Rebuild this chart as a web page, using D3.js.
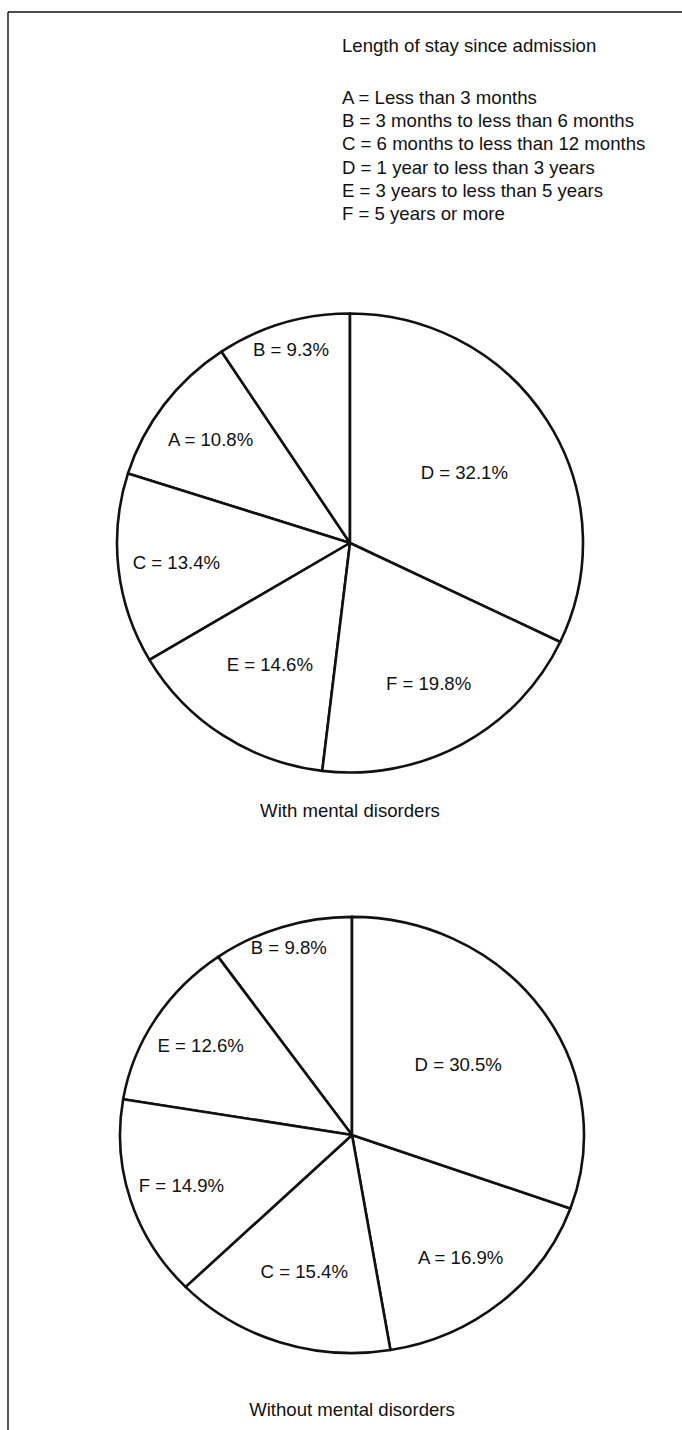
<!DOCTYPE html>
<html>
<head>
<meta charset="utf-8">
<script src="https://cdn.jsdelivr.net/npm/d3@7/dist/d3.min.js"></script>
<style>
  html, body { margin: 0; padding: 0; background: #fff; }
  svg { display: block; }
  text { font-family: "Liberation Sans", Arial, Helvetica, sans-serif; fill: #111; }
</style>
</head>
<body>
<svg id="chart" width="682" height="1430"></svg>
<script>
// ---- data ----
const categories = ["A", "B", "C", "D", "E", "F"];
const categoryLabels = [
  "Less than 3 months",
  "3 months to less than 6 months",
  "6 months to less than 12 months",
  "1 year to less than 3 years",
  "3 years to less than 5 years",
  "5 years or more"
];
const withDisorders = [10.8, 9.3, 13.4, 32.1, 14.6, 19.8];
const withoutDisorders = [16.9, 9.8, 15.4, 30.5, 12.6, 14.9];
const pieTitles = ["With mental disorders", "Without mental disorders"];
const legendTitle = "Length of stay since admission";

// ---- layout ----
const svg = d3.select("#chart");
const W = 682, H = 1430;
const FS = 18.6;

// frame (top and left rules)
svg.append("line").attr("x1", 8).attr("y1", 12).attr("x2", W).attr("y2", 12)
  .attr("stroke", "#111").attr("stroke-width", 1.6);
svg.append("line").attr("x1", 8).attr("y1", 12).attr("x2", 8).attr("y2", H)
  .attr("stroke", "#111").attr("stroke-width", 1.4);

// legend
const legend = svg.append("g");
legend.append("text").attr("x", 342).attr("y", 52).attr("font-size", FS).text(legendTitle);
legend.selectAll("text.item").data(categories).join("text")
  .attr("class", "item")
  .attr("x", 342)
  .attr("y", (d, i) => 104 + i * 23.2)
  .attr("font-size", FS)
  .text((d, i) => `${d} = ${categoryLabels[i]}`);

// label radius fractions per pie (layout only)
const labelPos = [
  { A: 0.75, B: 0.88, C: 0.75, D: 0.58, E: 0.63, F: 0.70 },
  { A: 0.73, B: 0.90, C: 0.66, D: 0.56, E: 0.77, F: 0.77 }
];

const pies = [
  { values: withDisorders, cx: 350, cy: 543, r: 233, sy: 0.985, titleY: 817 },
  { values: withoutDisorders, cx: 352, cy: 1135, r: 232, sy: 0.94, titleY: 1416 }
];

const pieGen = d3.pie().value(d => d.v).sort((a, b) => b.v - a.v);

pies.forEach((p, pi) => {
  const rows = categories.map((c, i) => ({ c, v: p.values[i] }));
  const arcs = pieGen(rows);
  const arc = d3.arc().innerRadius(0).outerRadius(p.r);
  const g = svg.append("g").attr("transform", `translate(${p.cx},${p.cy})`);
  g.append("g").attr("transform", `scale(1,${p.sy})`)
    .selectAll("path").data(arcs).join("path")
    .attr("d", arc)
    .attr("fill", "#fff")
    .attr("stroke", "#111")
    .attr("stroke-width", 2.6)
    .attr("vector-effect", "non-scaling-stroke")
    .attr("stroke-linejoin", "round");
  g.selectAll("text").data(arcs).join("text")
    .attr("transform", d => {
      const lr = p.r * labelPos[pi][d.data.c];
      const a = (d.startAngle + d.endAngle) / 2;
      return `translate(${Math.sin(a) * lr},${-Math.cos(a) * lr * p.sy})`;
    })
    .attr("text-anchor", "middle")
    .attr("dy", "0.35em")
    .attr("font-size", FS)
    .text(d => `${d.data.c} = ${d3.format(".1f")(d.data.v)}%`);
  svg.append("text").attr("x", p.cx).attr("y", p.titleY)
    .attr("text-anchor", "middle").attr("font-size", FS).text(pieTitles[pi]);
});
</script>
</body>
</html>
